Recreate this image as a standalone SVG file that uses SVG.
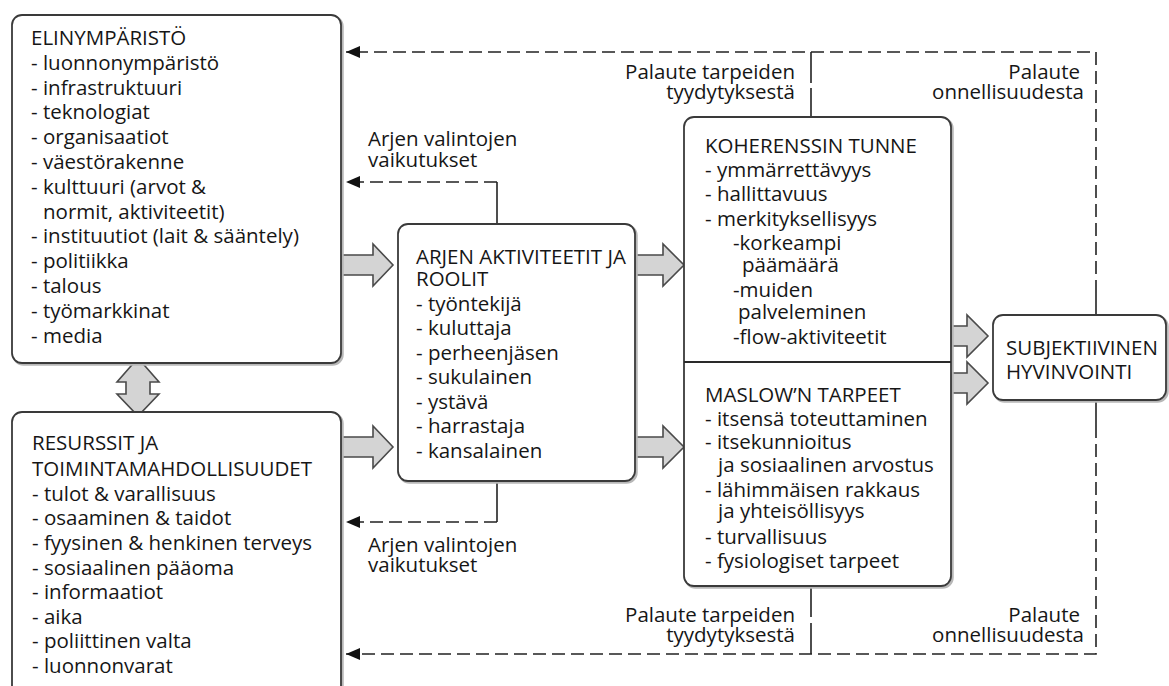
<svg xmlns="http://www.w3.org/2000/svg" width="1169" height="686" viewBox="0 0 1169 686">
<style>
text{font-family:"Open Sans","Noto Sans","Liberation Sans",sans-serif;font-size:20.5px;fill:#161616}
.box{fill:#fff;stroke:#3a3a3a;stroke-width:1.8}
.shadow{fill:none;stroke:#b8b8b8;stroke-width:2.5}
.blk{fill:#d4d4d4;stroke:#4a4a4a;stroke-width:1.6;stroke-linejoin:miter}
.dash{fill:none;stroke:#222;stroke-width:1.6;stroke-dasharray:13 6}
.solid{fill:none;stroke:#222;stroke-width:1.6}
.end{text-anchor:end}
</style>
<defs>
<marker id="ah" markerUnits="userSpaceOnUse" markerWidth="16" markerHeight="12" refX="14" refY="6" orient="auto">
<path d="M0,0 L14,6 L0,12 Z" fill="#111"/>
</marker>
</defs>
<rect width="1169" height="686" fill="#fff"/>

<g id="connectors">
<path class="dash" d="M1096,293 V52 H346" marker-end="url(#ah)"/>
<path class="solid" d="M1096,293 V315"/>
<path class="dash" d="M1096,425 V654 H346" marker-end="url(#ah)"/>
<path class="solid" d="M1096,400 V425"/>
<path class="solid" d="M811,52 V83 M811,88 V117"/>
<path class="solid" d="M811,586 V617 M811,623 V654"/>
<path class="solid" d="M497,224 V182"/>
<path class="dash" d="M497,182 H346" marker-end="url(#ah)"/>
<path class="solid" d="M497,481 V522"/>
<path class="dash" d="M497,522 H346" marker-end="url(#ah)"/>
<polygon class="blk" points="342,255 373,255 373,244 393,265 373,286 373,275 342,275"/>
<polygon class="blk" points="342,437 373,437 373,426 393,447 373,468 373,457 342,457"/>
<polygon class="blk" points="636,255 663,255 663,244 684,265 663,286 663,275 636,275"/>
<polygon class="blk" points="636,437 663,437 663,426 684,447 663,468 663,457 636,457"/>
<polygon class="blk" points="952,326 967,326 967,315 988,336 967,357 967,346 952,346"/>
<polygon class="blk" points="952,373 967,373 967,362 988,383 967,404 967,393 952,393"/>
<polygon class="blk" points="138,358 159,382 150,382 150,394 159,394 138,416 117,394 126,394 126,382 117,382"/>
<text><tspan x="368" y="146">Arjen valintojen</tspan><tspan x="368" y="167">vaikutukset</tspan></text>
<text><tspan x="368" y="552">Arjen valintojen</tspan><tspan x="368" y="572">vaikutukset</tspan></text>
<text class="end"><tspan x="795" y="79">Palaute tarpeiden</tspan><tspan x="795" y="99">tyydytyksestä</tspan></text>
<text class="end"><tspan x="1080" y="79">Palaute</tspan><tspan x="1084" y="99">onnellisuudesta</tspan></text>
<text class="end"><tspan x="795" y="622">Palaute tarpeiden</tspan><tspan x="795" y="642">tyydytyksestä</tspan></text>
<text class="end"><tspan x="1080" y="622">Palaute</tspan><tspan x="1084" y="642">onnellisuudesta</tspan></text>
</g>

<g id="elinymparisto">
<rect class="shadow" x="13.5" y="16.5" width="329" height="348" rx="10"/>
<rect class="box" x="12" y="15" width="329" height="348" rx="10"/>
<text><tspan x="31" y="45">ELINYMPÄRISTÖ</tspan><tspan x="31" y="69.8">- luonnonympäristö</tspan><tspan x="31" y="94.6">- infrastruktuuri</tspan><tspan x="31" y="119.4">- teknologiat</tspan><tspan x="31" y="144.2">- organisaatiot</tspan><tspan x="31" y="169">- väestörakenne</tspan><tspan x="31" y="193.8">- kulttuuri (arvot &amp;</tspan><tspan x="43" y="218.6">normit, aktiviteetit)</tspan><tspan x="31" y="243.4">- instituutiot (lait &amp; sääntely)</tspan><tspan x="31" y="268.2">- politiikka</tspan><tspan x="31" y="293">- talous</tspan><tspan x="31" y="317.8">- työmarkkinat</tspan><tspan x="31" y="342.6">- media</tspan></text>
</g>

<g id="resurssit">
<rect class="shadow" x="13.5" y="413.5" width="329" height="300" rx="10"/>
<rect class="box" x="12" y="412" width="329" height="300" rx="10"/>
<text><tspan x="32" y="450">RESURSSIT JA</tspan><tspan x="32" y="476">TOIMINTAMAHDOLLISUUDET</tspan><tspan x="32" y="501">- tulot &amp; varallisuus</tspan><tspan x="32" y="525">- osaaminen &amp; taidot</tspan><tspan x="32" y="550">- fyysinen &amp; henkinen terveys</tspan><tspan x="32" y="575">- sosiaalinen pääoma</tspan><tspan x="32" y="599">- informaatiot</tspan><tspan x="32" y="624">- aika</tspan><tspan x="32" y="648">- poliittinen valta</tspan><tspan x="32" y="673">- luonnonvarat</tspan></text>
</g>

<g id="arjen-aktiviteetit">
<rect class="shadow" x="399.5" y="225.5" width="237" height="257" rx="10"/>
<rect class="box" x="398" y="224" width="237" height="257" rx="10"/>
<text><tspan x="416" y="264">ARJEN AKTIVITEETIT JA</tspan><tspan x="416" y="286">ROOLIT</tspan><tspan x="416" y="311">- työntekijä</tspan><tspan x="416" y="335">- kuluttaja</tspan><tspan x="416" y="360">- perheenjäsen</tspan><tspan x="416" y="384">- sukulainen</tspan><tspan x="416" y="409">- ystävä</tspan><tspan x="416" y="433">- harrastaja</tspan><tspan x="416" y="458">- kansalainen</tspan></text>
</g>

<g id="koherenssi-maslow">
<rect class="shadow" x="685.5" y="118.5" width="267" height="469" rx="10"/>
<rect class="box" x="684" y="117" width="267" height="469" rx="10"/>
<line x1="684" y1="362" x2="951" y2="362" stroke="#2a2a2a" stroke-width="1.8"/>
<text><tspan x="705" y="153">KOHERENSSIN TUNNE</tspan><tspan x="705" y="177">- ymmärrettävyys</tspan><tspan x="705" y="201">- hallittavuus</tspan><tspan x="705" y="226">- merkityksellisyys</tspan><tspan x="733" y="250">-korkeampi</tspan><tspan x="742" y="272">päämäärä</tspan><tspan x="733" y="297">-muiden</tspan><tspan x="738" y="319">palveleminen</tspan><tspan x="733" y="344">-flow-aktiviteetit</tspan></text>
<text><tspan x="705" y="402">MASLOW’N TARPEET</tspan><tspan x="705" y="426">- itsensä toteuttaminen</tspan><tspan x="705" y="449">- itsekunnioitus</tspan><tspan x="718" y="472">ja sosiaalinen arvostus</tspan><tspan x="705" y="497">- lähimmäisen rakkaus</tspan><tspan x="718" y="518">ja yhteisöllisyys</tspan><tspan x="705" y="544">- turvallisuus</tspan><tspan x="705" y="568">- fysiologiset tarpeet</tspan></text>
</g>

<g id="subjektiivinen">
<rect class="shadow" x="994.5" y="316.5" width="173" height="85" rx="10"/>
<rect class="box" x="993" y="315" width="173" height="85" rx="10"/>
<text><tspan x="1006" y="355">SUBJEKTIIVINEN</tspan><tspan x="1006" y="379">HYVINVOINTI</tspan></text>
</g>
</svg>
